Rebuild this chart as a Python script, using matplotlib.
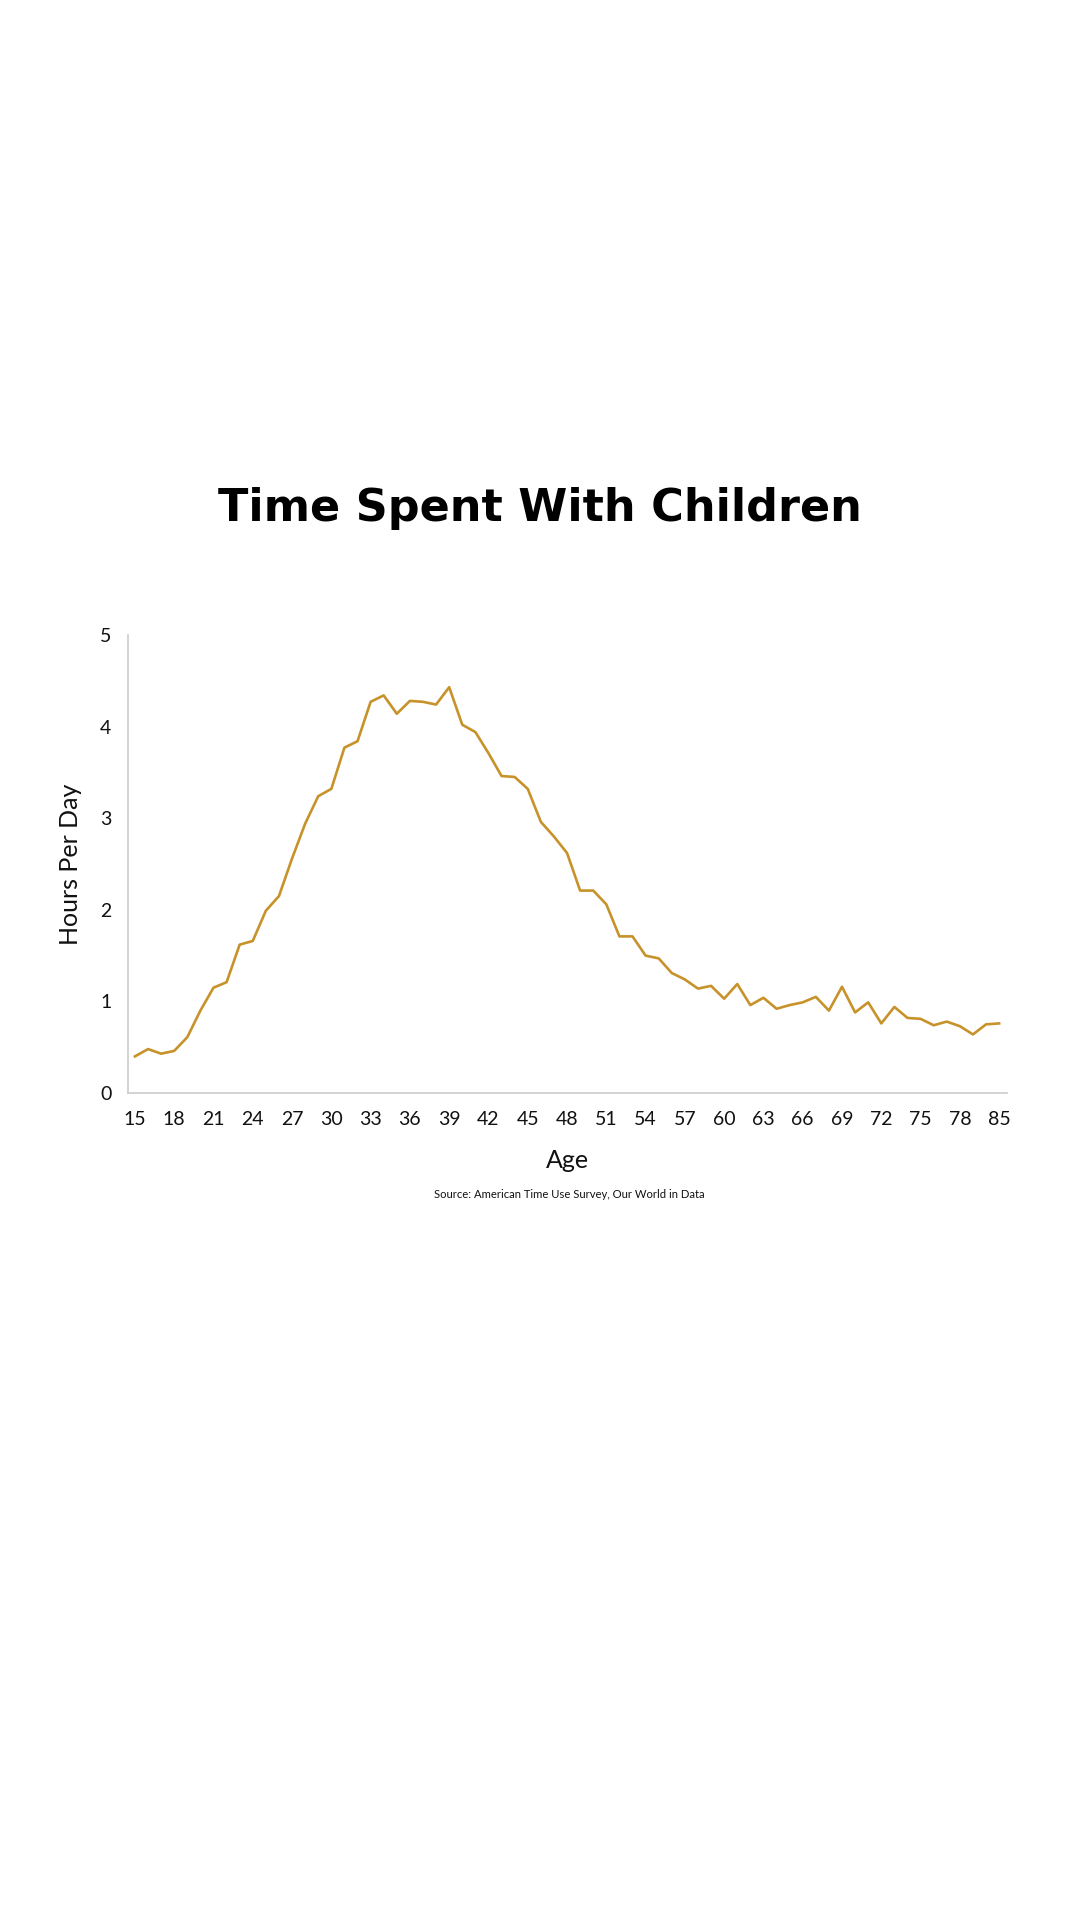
import matplotlib
matplotlib.use("Agg")
import matplotlib.pyplot as plt

# ages 15..80 then the 85+ group
ages = list(range(15, 81)) + [85]
hours = [0.40, 0.48, 0.43, 0.46, 0.61, 0.90, 1.15, 1.21, 1.62, 1.66,
         1.99, 2.15, 2.56, 2.94, 3.24, 3.32, 3.77, 3.84, 4.27, 4.34,
         4.14, 4.28, 4.27, 4.24, 4.43, 4.02, 3.94, 3.71, 3.46, 3.45,
         3.32, 2.96, 2.80, 2.62, 2.21, 2.21, 2.06, 1.71, 1.71, 1.50,
         1.47, 1.31, 1.24, 1.14, 1.17, 1.03, 1.19, 0.96, 1.04, 0.92,
         0.96, 0.99, 1.05, 0.90, 1.16, 0.88, 0.99, 0.76, 0.94, 0.82,
         0.81, 0.74, 0.78, 0.73, 0.64, 0.75, 0.76]
tick_idx = list(range(0, 64, 3)) + [66]
tick_labels = [str(ages[i]) for i in tick_idx]

plt.rcParams['font.family'] = ['Lato', 'DejaVu Sans']

fig = plt.figure(figsize=(10.8, 19.2), dpi=100)
ax = fig.add_axes([0.1185, 0.4307, 0.8139, 0.2386])

ax.plot(range(len(ages)), hours, color='#C8922A', lw=1.9)

ax.set_xlim(-0.53, 66.6)
ax.set_ylim(0, 5)
ax.set_yticks([0, 1, 2, 3, 4, 5])
ax.set_xticks(tick_idx)
ax.set_xticklabels(tick_labels)
ax.tick_params(length=0, labelsize=14, colors='#111111')
ax.tick_params(axis='x', pad=13)
ax.tick_params(axis='y', pad=12)

for s in ['top', 'right']:
    ax.spines[s].set_visible(False)
for s in ['left', 'bottom']:
    ax.spines[s].set_color('#cccccc')
    ax.spines[s].set_linewidth(1.2)

ax.set_ylabel('Hours Per Day', fontsize=18, color='#111111')
ax.yaxis.set_label_coords(-0.052, 0.5)
ax.set_xlabel('Age', fontsize=18, color='#111111')
ax.xaxis.set_label_coords(0.5, -0.122)

fig.text(0.5, 1 - 509 / 1920, 'Time Spent With Children', ha='center', va='center',
         fontsize=32, fontweight='bold', color='#000000', family='DejaVu Sans')
fig.text(0.527, 1 - 1195 / 1920, 'Source: American Time Use Survey, Our World in Data',
         ha='center', va='center', fontsize=8.1, color='#111111')

fig.savefig('out.png', dpi=100, facecolor='white')
